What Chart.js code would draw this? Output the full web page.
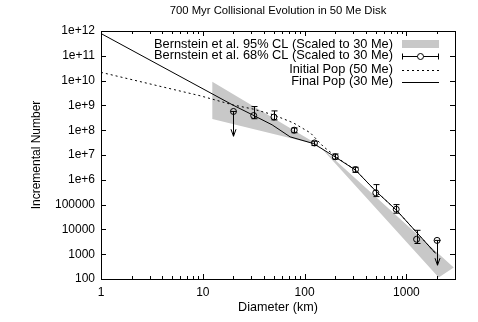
<!DOCTYPE html>
<html>
<head>
<meta charset="utf-8">
<script src="https://cdn.jsdelivr.net/npm/chart.js@4"></script>
<style>
  html, body { margin: 0; padding: 0; background: #fff; }
  #wrap { width: 478px; height: 322px; position: relative; }
</style>
</head>
<body>
<div id="wrap"><canvas id="chart"></canvas></div>
<script>
// ---- texts / ticks
const TITLE = "700 Myr Collisional Evolution in 50 Me Disk";
const X_TITLE = "Diameter (km)";
const Y_TITLE = "Incremental Number";
const X_TICKS = [1, 10, 100, 1000];
const Y_TICKS = [100, 1e3, 1e4, 1e5, 1e6, 1e7, 1e8, 1e9, 1e10, 1e11, 1e12];
const LEGEND_LABELS = [
    "Bernstein et al. 95% CL (Scaled to 30 Me)",
    "Bernstein et al. 68% CL (Scaled to 30 Me)",
    "Initial Pop (50 Me)",
    "Final Pop (30 Me)"
];

// ---- Bernstein et al. 68% CL points
const obsDiam = [20, 31.6, 50, 79, 125, 200, 316, 500, 794, 1259, 2000];
const obsN    = [5.7e8, 3.9e8, 3.4e8, 1.0e8, 3.06e7, 8.5e6, 2.6e6, 3.0e5, 6.5e4, 4.0e3, 3.6e3];
const obsHi   = [5.7e8, 9.0e8, 6.0e8, 1.23e8, 3.6e7, 1.1e7, 3.2e6, 6.4e5, 1.0e5, 9.2e3, 3.6e3];
const obsLo   = [5.7e8, 2.9e8, 2.6e8, 7.9e7, 2.4e7, 6.8e6, 2.0e6, 2.1e5, 4.5e4, 2.7e3, 3.6e3];
const obsUpperLimit = [true, false, false, false, false, false, false, false, false, false, true];

// ---- Bernstein et al. 95% CL band outline
const bandDiam = [12.4, 137, 2915, 2075, 137, 12.4];
const bandN    = [9.0e9, 2.54e7, 292, 115, 2.54e7, 2.86e8];

// ---- model populations
const initDiam = [1, 9.4, 19.9, 31.3, 49.3, 77.6, 114, 153, 225, 316, 500, 800, 1230, 1940];
const initN    = [2.15e10, 2.45e9, 1.04e9, 7.1e8, 4.17e8, 1.97e8, 7.8e7, 2.17e7, 6.3e6, 2.47e6, 3.5e5, 5.9e4, 8.4e3, 1.07e3];
const finalDiam = [1, 19.5, 30.6, 48, 72, 122, 200, 316, 500, 800, 1230, 1940];
const finalN    = [7.9e11, 1.06e9, 4.2e8, 1.64e8, 5.4e7, 2.9e7, 8.3e6, 2.47e6, 3.5e5, 5.9e4, 8.4e3, 1.07e3];

const FONT = '"Liberation Sans", Arial, Helvetica, sans-serif';
const BAND_GREY = "#c8c8c8";

const pts = (xs, ys) => xs.map((x, i) => ({ x: x, y: ys[i] }));

Chart.defaults.color = "#000";
Chart.defaults.font.family = FONT;
Chart.defaults.font.size = 12;

// frame + inward ticks (gnuplot style)
const frameTicks = {
    id: "frameTicks",
    afterDraw(chart) {
        const { ctx, chartArea: a, scales: { x, y } } = chart;
        ctx.save();
        ctx.strokeStyle = "#000";
        ctx.lineWidth = 1;
        ctx.beginPath();
        Y_TICKS.forEach(v => {
            const py = Math.round(y.getPixelForValue(v)) + 0.5;
            ctx.moveTo(a.left, py); ctx.lineTo(a.left + 5, py);
            ctx.moveTo(a.right, py); ctx.lineTo(a.right - 5, py);
        });
        for (let dec = 1; dec <= 1000; dec *= 10) {
            for (let m = 1; m <= 9; m++) {
                const v = dec * m;
                if (v > x.max) break;
                const len = m === 1 ? 5 : 3;
                const px = Math.round(x.getPixelForValue(v)) + 0.5;
                ctx.moveTo(px, a.bottom); ctx.lineTo(px, a.bottom - len);
                ctx.moveTo(px, a.top); ctx.lineTo(px, a.top + len);
            }
        }
        ctx.stroke();
        ctx.strokeRect(Math.round(a.left) + 0.5, Math.round(a.top) + 0.5,
            Math.round(a.right - a.left), Math.round(a.bottom - a.top));

        // title
        ctx.fillStyle = "#000";
        ctx.font = "11.3px " + FONT;
        ctx.textAlign = "center";
        ctx.textBaseline = "middle";
        ctx.fillText(TITLE, (a.left + a.right) / 2, 11);
        ctx.restore();
    }
};

function drawArrowDown(ctx, px, y0, y1) {
    ctx.moveTo(px, y0); ctx.lineTo(px, y1);
    ctx.moveTo(px - 2.5, y1 - 7); ctx.lineTo(px, y1); ctx.lineTo(px + 2.5, y1 - 7);
}

// error bars and upper-limit arrows for the 68% CL points
const errorBars = {
    id: "errorBars",
    afterDatasetsDraw(chart) {
        const { ctx, scales: { x, y } } = chart;
        ctx.save();
        ctx.strokeStyle = "#000";
        ctx.lineWidth = 1;
        ctx.beginPath();
        obsDiam.forEach((d, i) => {
            const px = Math.round(x.getPixelForValue(d)) + 0.5;
            const pc = y.getPixelForValue(obsN[i]);
            if (obsUpperLimit[i]) {
                ctx.moveTo(px - 3, pc); ctx.lineTo(px + 3, pc);
                drawArrowDown(ctx, px, pc, y.getPixelForValue(obsN[i] / 10));
            } else {
                const ph = y.getPixelForValue(obsHi[i]);
                const pl = y.getPixelForValue(obsLo[i]);
                ctx.moveTo(px, ph); ctx.lineTo(px, pl);
                ctx.moveTo(px - 3, ph); ctx.lineTo(px + 3, ph);
                ctx.moveTo(px - 3, pl); ctx.lineTo(px + 3, pl);
            }
        });
        ctx.stroke();
        ctx.restore();
    }
};

// gnuplot-like key: right aligned text, sample on the right
const keyBox = {
    id: "keyBox",
    afterDraw(chart) {
        const { ctx } = chart;
        const rows = [44, 55.5, 69.5, 81.5];
        const textRight = 393, s0 = 402, s1 = 439;
        ctx.save();
        ctx.font = "12.8px " + FONT;
        ctx.fillStyle = "#000";
        ctx.textAlign = "right";
        ctx.textBaseline = "middle";
        LEGEND_LABELS.forEach((t, i) => ctx.fillText(t, textRight, rows[i]));

        ctx.fillStyle = BAND_GREY;
        ctx.fillRect(s0, rows[0] - 4, s1 - s0, 8);

        ctx.strokeStyle = "#000";
        ctx.lineWidth = 1;
        const r1 = Math.round(rows[1]) + 0.5;
        ctx.beginPath();
        ctx.moveTo(s0, r1); ctx.lineTo(s1, r1);
        ctx.moveTo(s0 + 0.5, r1 - 3); ctx.lineTo(s0 + 0.5, r1 + 3);
        ctx.moveTo(s1 - 0.5, r1 - 3); ctx.lineTo(s1 - 0.5, r1 + 3);
        ctx.stroke();
        ctx.fillStyle = "#fff";
        ctx.beginPath();
        ctx.arc((s0 + s1) / 2, r1, 3, 0, Math.PI * 2);
        ctx.fill(); ctx.stroke();

        const r2 = Math.round(rows[2]) + 0.5;
        ctx.setLineDash([2, 3]);
        ctx.beginPath(); ctx.moveTo(s0, r2); ctx.lineTo(s1, r2); ctx.stroke();
        ctx.setLineDash([]);
        const r3 = Math.round(rows[3]) + 0.5;
        ctx.beginPath(); ctx.moveTo(s0, r3); ctx.lineTo(s1, r3); ctx.stroke();
        ctx.restore();
    }
};

new Chart(document.getElementById("chart"), {
    type: "scatter",
    data: {
        datasets: [
            {
                label: "68% CL",
                data: pts(obsDiam, obsN),
                showLine: false,
                pointStyle: "circle",
                pointRadius: 3,
                pointBorderWidth: 1,
                pointBorderColor: "#000",
                pointBackgroundColor: "rgba(0,0,0,0)",
                order: 1
            },
            {
                label: "Final Pop",
                data: pts(finalDiam, finalN),
                showLine: true,
                borderColor: "#000",
                borderWidth: 1,
                pointRadius: 0,
                tension: 0,
                order: 2
            },
            {
                label: "Initial Pop",
                data: pts(initDiam, initN),
                showLine: true,
                borderColor: "#000",
                borderWidth: 1,
                borderDash: [2, 3],
                pointRadius: 0,
                tension: 0,
                order: 3
            },
            {
                label: "95% CL",
                data: pts(bandDiam, bandN),
                showLine: true,
                borderWidth: 0,
                borderColor: "rgba(0,0,0,0)",
                backgroundColor: BAND_GREY,
                fill: "shape",
                pointRadius: 0,
                order: 4
            }
        ]
    },
    options: {
        responsive: true,
        maintainAspectRatio: false,
        animation: false,
        events: [],
        layout: { padding: { top: 31, right: 23, left: 0, bottom: 0 } },
        plugins: {
            legend: { display: false },
            title: { display: false },
            tooltip: { enabled: false }
        },
        scales: {
            x: {
                type: "logarithmic",
                min: 1,
                max: 3000,
                grid: { display: false, drawTicks: false },
                border: { display: false },
                afterBuildTicks: s => { s.ticks = X_TICKS.map(v => ({ value: v })); },
                afterFit: s => { s.height = 43; },
                ticks: {
                    padding: 6,
                    maxRotation: 0,
                    font: { size: 12 },
                    callback: v => String(v)
                },
                title: {
                    display: true,
                    text: X_TITLE,
                    font: { size: 12.6 },
                    padding: { top: 0, bottom: 7.4 }
                }
            },
            y: {
                type: "logarithmic",
                min: 100,
                max: 1e12,
                grid: { display: false, drawTicks: false },
                border: { display: false },
                afterBuildTicks: s => { s.ticks = Y_TICKS.map(v => ({ value: v })); },
                afterFit: s => { s.width = 101; },
                ticks: {
                    padding: 6,
                    font: { size: 12 },
                    callback: v => v >= 1e6 ? "1e+" + Math.round(Math.log10(v)) : String(v)
                },
                title: {
                    display: true,
                    text: Y_TITLE,
                    font: { size: 12 },
                    padding: { top: 29.9, bottom: 0 }
                }
            }
        }
    },
    plugins: [frameTicks, errorBars, keyBox]
});
</script>
</body>
</html>
